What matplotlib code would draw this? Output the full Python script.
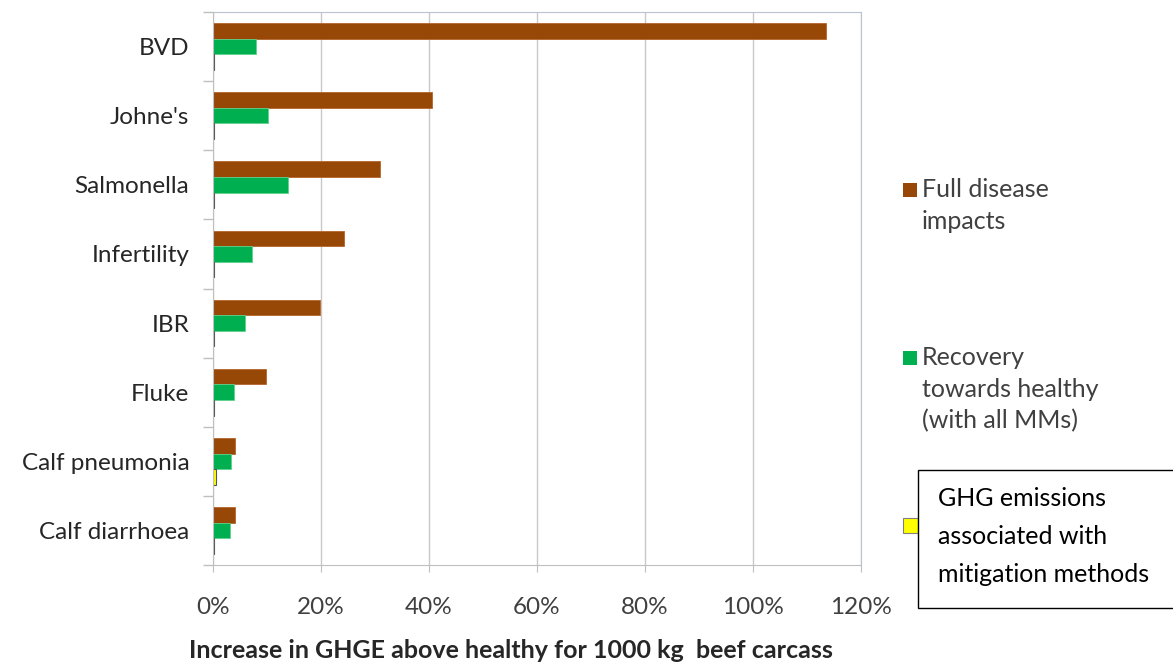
import numpy as np
import matplotlib.pyplot as plt
from matplotlib.patches import Rectangle
from matplotlib.ticker import FuncFormatter

plt.rcParams['font.family'] = ['Lato', 'DejaVu Sans']

diseases = ['BVD', "Johne's", 'Salmonella', 'Infertility', 'IBR', 'Fluke',
            'Calf pneumonia', 'Calf diarrhoea']
full_impact = [113.5, 40.6, 31.0, 24.3, 19.8, 9.8, 4.1, 4.1]
recovery = [8.0, 10.2, 13.9, 7.2, 5.9, 3.9, 3.3, 3.1]
mitigation = [0.2, 0.2, 0.2, 0.2, 0.2, 0.2, 0.5, 0.2]

series_labels = ['Full disease\nimpacts', 'Recovery\ntowards healthy\n(with all MMs)']
box_text = 'GHG emissions\nassociated with\nmitigation methods'

fig = plt.figure(figsize=(11.73, 6.64), dpi=100)
ax = fig.add_axes([0.1816, 0.149, 0.5525, 0.833])

y = np.arange(len(diseases))
h = 0.225
ax.barh(y - h, full_impact, h, color='#974706', edgecolor='#b5652a', linewidth=0.6)
ax.barh(y, recovery, h, color='#00B050', edgecolor='#5fd08a', linewidth=0.6)
ax.barh(y + h, mitigation, h, color='#FFFF00', edgecolor='#555555', linewidth=0.8)

ax.set_ylim(len(diseases) - 0.5, -0.5)
ax.set_xlim(0, 120)
ax.set_xticks(np.arange(0, 121, 20))
ax.xaxis.set_major_formatter(FuncFormatter(lambda v, p: f'{v:.0f}%'))
ax.set_yticks(y)
ax.set_yticklabels(diseases)
ax.set_yticks(np.arange(-0.5, len(diseases), 1), minor=True)
ax.tick_params(axis='y', which='major', length=0, pad=17, labelsize=17.5, colors='#262626')
ax.tick_params(axis='y', which='minor', length=7, color='#bfbfbf', width=1)
ax.tick_params(axis='x', length=5, color='#bfbfbf', labelsize=17.5, labelcolor='#404040', pad=18)

ax.grid(axis='x', color='#c8c8c8', linewidth=1)
ax.set_axisbelow(True)
for side in ['top', 'right']:
    ax.spines[side].set_color('#b8c4d4')
ax.spines['left'].set_color('#bfbfbf')
ax.spines['bottom'].set_color('#bfbfbf')

ax.set_xlabel('Increase in GHGE above healthy for 1000 kg  beef carcass',
              fontsize=18, fontweight='bold', color='#262626')
ax.xaxis.set_label_coords(0.46, -0.134)

# legend drawn by hand, entries spaced down the right side
legend_colors = ['#974706', '#00B050']
legend_y = [190, 358]
for col, yy, lab in zip(legend_colors, legend_y, series_labels):
    fig.patches.append(Rectangle((903 / 1173, 1 - (yy + 7) / 664), 14 / 1173, 14 / 664,
                                 transform=fig.transFigure, facecolor=col,
                                 edgecolor='none'))
    fig.text(922 / 1173, 1 - (yy - 12) / 664, lab, fontsize=18, color='#404040',
             va='top', ha='left', linespacing=1.45)

fig.patches.append(Rectangle((903 / 1173, 1 - 533 / 664), 15 / 1173, 15 / 664,
                             transform=fig.transFigure, facecolor='#FFFF00',
                             edgecolor='#808080', linewidth=0.8))
fig.patches.append(Rectangle((918 / 1173, 1 - 608 / 664), 256 / 1173, 138 / 664,
                             transform=fig.transFigure, facecolor='white',
                             edgecolor='black', linewidth=1, zorder=5))
fig.text(938 / 1173, 1 - 487 / 664, box_text, fontsize=18, color='black',
         va='top', ha='left', linespacing=1.8, zorder=6)

fig.savefig('out.png', dpi=100)
